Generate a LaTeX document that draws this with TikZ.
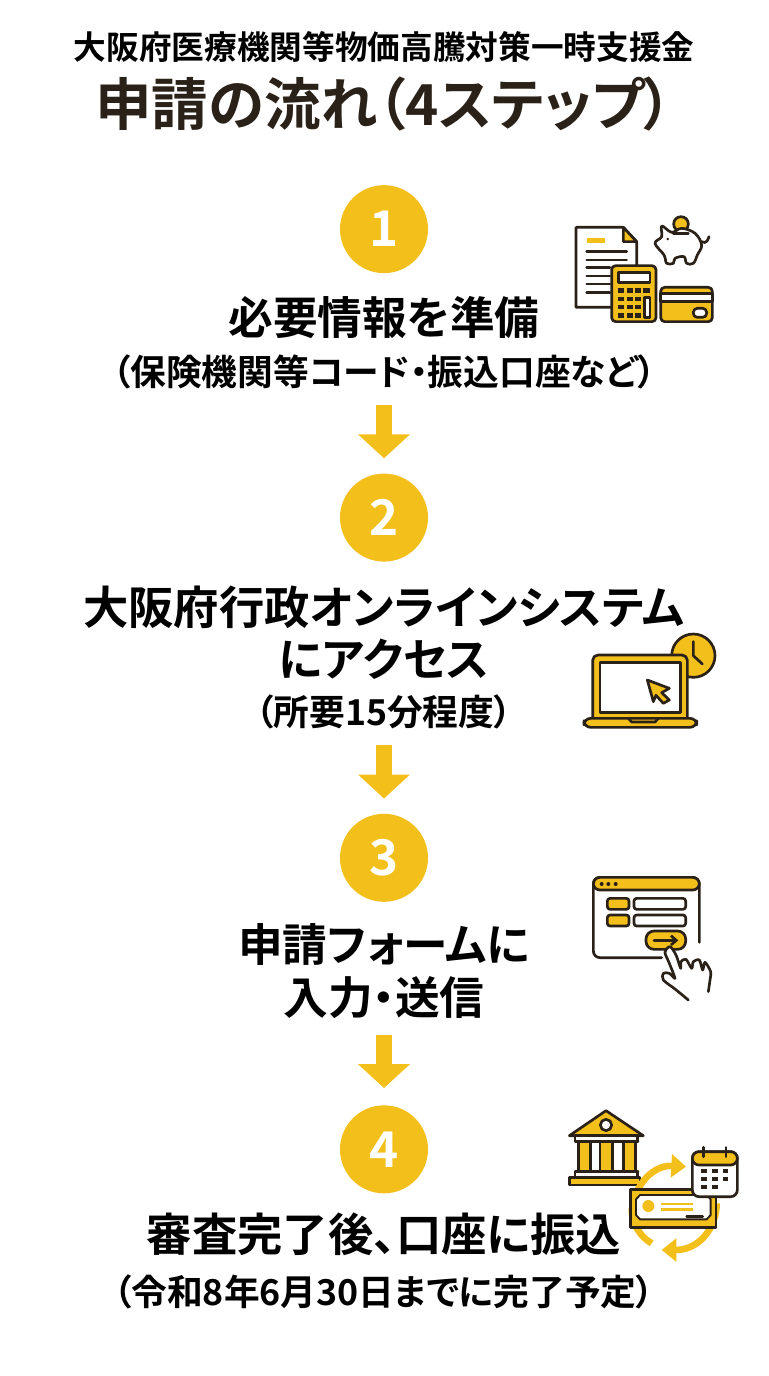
\documentclass[tikz,border=0pt]{standalone}
\usepackage{fontspec}
\setmainfont{Noto Sans CJK JP}[BoldFont=* Bold,RawFeature=+palt]
\usetikzlibrary{arrows.meta, positioning}
\definecolor{stepyellow}{HTML}{F3BF1B}
\definecolor{inkdark}{HTML}{2A2118}

\begin{document}
\begin{tikzpicture}[
        x=0.75pt, y=-0.75pt,
        node distance=12pt,
        txt/.style={inner sep=0pt, text=black, font=\bfseries\fontsize{#1}{#1}\selectfont, text height=0.88*#1 pt, text depth=0.12*#1 pt},
        num/.style={circle, fill=stepyellow, text=white, inner sep=0pt, minimum size=66pt, font=\bfseries\fontsize{37}{40}\selectfont},
        arrow/.style={-{Triangle[width=38pt, length=18pt]}, line width=12pt, draw=stepyellow},
        ink/.style={draw=inkdark, line width=2pt, line join=round, line cap=round},
        yel/.style={ink, fill=stepyellow},
        wht/.style={ink, fill=white}
    ]
        \useasboundingbox (0,0) rectangle (768,1376);

        % Title
        \node[txt=24.5] (title1) at (384,47) {大阪府医療機関等物価高騰対策一時支援金};
        \node[txt=42.4, text=inkdark, below=8.55pt of title1] (title2) {申請の流れ（4ステップ）};

        % Step 1
        \node[num, below=39.6pt of title2] (num1) {1};
        \node[txt=33.5, below=16.2pt of num1] (lab1) {必要情報を準備};
        \node[txt=26.8, below=10.35pt of lab1] (sub1) {（保険機関等コード・振込口座など）};

        % Step 2
        \node[num, below=62.3pt of sub1] (num2) {2};
        \node[txt=34, below=16.75pt of num2] (lab2a) {大阪府行政オンラインシステム};
        \node[txt=34, below=5pt of lab2a] (lab2b) {にアクセス};
        \node[txt=26.8, below=8.65pt of lab2b] (sub2) {（所要15分程度）};

        % Step 3
        \node[num, below=62.35pt of sub2] (num3) {3};
        \node[txt=33.5, below=14.7pt of num3] (lab3a) {申請フォームに};
        \node[txt=33.5, below=6.25pt of lab3a] (lab3b) {入力・送信};

        % Step 4
        \node[num, below=63.5pt of lab3b] (num4) {4};
        \node[txt=34, below=13pt of num4] (lab4) {審査完了後、口座に振込};
        \node[txt=26.8, below=12.4pt of lab4] (sub4) {（令和8年6月30日までに完了予定）};

        % Arrows
        \draw[arrow, shorten <=11.35pt, shorten >=11.25pt] (sub1) -- (num2);
        \draw[arrow, shorten <=10.65pt, shorten >=11.25pt] (sub2) -- (num3);
        \draw[arrow, shorten <=11pt, shorten >=12.75pt] (lab3b) -- (num4);

        % Icon 1: papers, piggy bank, calculator, card
        \begin{scope}[shift={(560,200)}, scale=1/3]
            \draw[wht] (48,82) -- (190,82) -- (230,125) -- (230,322) -- (48,322) -- cycle;
            \draw[yel] (190,82) -- (230,125) -- (190,125) -- cycle;
            \draw[stepyellow, line width=3.5pt] (80,122) -- (135,122);
            \foreach \yy/\xx in {155/200, 180/200, 203/150, 228/150, 252/150, 277/150}
                \draw[ink] (80,\yy) -- (\xx,\yy);
            \draw[yel, rounded corners=3pt] (155,197) rectangle (288,365);
            \draw[wht] (175,218) rectangle (270,248);
            \foreach \yy in {265,290,315,340} \foreach \xx in {175,200,225}
                \fill[inkdark] (\xx,\yy) rectangle +(18,13);
            \fill[inkdark] (250,265) rectangle +(20,13);
            \draw[wht] (254,292) rectangle (270,352);
            \draw[yel, rounded corners=3pt] (302,262) rectangle (457,365);
            \draw[wht] (302,280) rectangle (457,305);
            \draw[wht, rounded corners=3pt] (400,325) rectangle (440,352);
            \draw[yel] (363,72) circle (22);
            \draw[wht] plot[smooth cycle, tension=0.6] coordinates {(305,78) (335,97) (365,85) (405,100) (425,135) (412,165) (400,190) (380,190) (372,170) (345,175) (340,190) (320,190) (312,165) (285,130) (305,110)};
            \draw[ink] (340,100) -- (385,100);
            \fill[inkdark] (323,117) circle (4);
            \draw[ink] (425,125) .. controls (440,135) and (445,115) .. (447,110);
        \end{scope}

        % Icon 2: laptop with clock
        \begin{scope}[shift={(570,620)}, scale=1/3]
            \draw[yel] (370,107) circle (65);
            \draw[ink] (370,65) -- (370,107) -- (397,132);
            \draw[yel, rounded corners=4pt] (68,295) -- (68,105) -- (352,105) -- (352,295);
            \draw[wht] (90,128) rectangle (332,278);
            \draw[yel, rounded corners=5pt] (42,295) rectangle (380,322);
            \draw[ink] (175,295) -- (185,306) -- (255,306) -- (265,295);
            \draw[yel] (232,180) -- (298,205) -- (275,218) -- (298,240) -- (280,250) -- (258,226) -- (250,245) -- cycle;
        \end{scope}

        % Icon 3: form window and hand
        \begin{scope}[shift={(580,865)}, scale=1/3]
            \draw[ink, fill=white, rounded corners=5pt] (245,278) -- (40,278) -- (40,37) -- (358,37) -- (358,232);
            \draw[yel, rounded corners=5pt] (40,75) -- (40,37) -- (358,37) -- (358,75) -- cycle;
            \foreach \xx in {65,85,107} \fill[inkdark] (\xx,57) circle (6);
            \draw[yel, rounded corners=2pt] (82,100) rectangle (147,133);
            \draw[yel, rounded corners=2pt] (82,150) rectangle (147,183);
            \draw[wht, rounded corners=2pt] (162,100) rectangle (317,133);
            \draw[wht, rounded corners=2pt] (162,150) rectangle (317,183);
            \draw[yel, rounded corners=6pt] (198,198) rectangle (317,253);
            \draw[ink, -{Straight Barb[length=4pt, width=7pt]}] (222,226) -- (295,226);
            \draw[wht] plot[smooth, tension=0.5] coordinates {(325,405) (285,372) (250,345) (250,325) (268,325) (285,340) (268,295) (255,262) (270,245) (288,270) (302,310) (303,290) (318,283) (335,310) (340,290) (358,285) (368,315) (375,292) (392,320) (390,345) (385,380)};
        \end{scope}

        % Icon 4: bank, payment, calendar
        \begin{scope}[shift={(560,1100)}, scale=1/3]
            \draw[yel] (138,32) -- (250,107) -- (28,107) -- cycle;
            \draw[wht] (138,75) circle (17);
            \draw[wht] (45,107) rectangle (232,125);
            \foreach \xx in {55,120,190} {
                \draw[yel] (\xx,125) rectangle +(37,90);
                \draw[ink] (\xx-7,125) -- +(51,0) (\xx-7,215) -- +(51,0);
            }
            \draw[wht] (45,215) rectangle (232,232);
            \draw[yel] (28,232) rectangle (240,255);
            \draw[stepyellow, line width=5pt, -{Triangle[width=17pt, length=11pt]}] (222,300) .. controls (240,235) and (290,195) .. (378,200);
            \draw[stepyellow, line width=5pt] (215,325) .. controls (215,370) and (240,410) .. (275,430);
            \draw[stepyellow, line width=5pt, -{Triangle[width=17pt, length=11pt]}] (470,310) .. controls (470,380) and (420,450) .. (305,450);
            \draw[ink, fill=stepyellow] (212,268) rectangle (468,382);
            \draw[ink, fill=white, line width=1.4pt] (240,285) -- (440,285) -- (452,298) -- (452,345) -- (440,358) -- (240,358) -- (228,345) -- (228,298) -- cycle;
            \fill[stepyellow] (265,318) circle (18);
            \draw[stepyellow, line width=2pt] (303,312) -- (400,312) (303,328) -- (400,328);
            \draw[ink] (380,350) -- (428,350);
            \draw[wht, rounded corners=5pt] (397,155) rectangle (532,290);
            \draw[yel, rounded corners=5pt] (397,195) -- (397,155) -- (532,155) -- (532,195) -- cycle;
            \draw[ink] (430,142) -- (430,170) (498,142) -- (498,170);
            \foreach \yy in {212,238} \foreach \xx in {432,465,497}
                \fill[inkdark] (\xx,\yy) +(-8,-6) rectangle +(8,6);
            \foreach \xx in {432,465}
                \fill[inkdark] (\xx,262) +(-8,-6) rectangle +(8,6);
        \end{scope}

    \end{tikzpicture}
\end{document}
